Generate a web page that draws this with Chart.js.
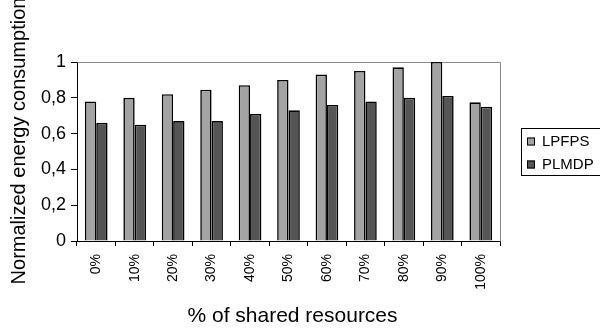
<!DOCTYPE html>
<html>
<head>
<meta charset="utf-8">
<script src="https://cdn.jsdelivr.net/npm/chart.js@4/dist/chart.umd.min.js"></script>
<style>
  html, body { margin: 0; padding: 0; background: #fff; }
  canvas { display: block; }
</style>
</head>
<body>
<canvas id="c" width="600" height="331"></canvas>
<script>
// Share of resources held in common, one group of bars each
const categories = ['0%', '10%', '20%', '30%', '40%', '50%', '60%', '70%', '80%', '90%', '100%'];
const seriesNames = ['LPFPS', 'PLMDP'];
const lpfps = [0.78, 0.80, 0.82, 0.845, 0.87, 0.90, 0.93, 0.95, 0.97, 1.00, 0.775];
const plmdp = [0.66, 0.65, 0.67, 0.67, 0.71, 0.73, 0.76, 0.78, 0.80, 0.81, 0.75];
const yTicks = [0, 0.2, 0.4, 0.6, 0.8, 1];
const yTitle = 'Normalized energy consumption';
const xTitle = '% of shared resources';

const FONT = '"Liberation Sans", Arial, Helvetica, sans-serif';
Chart.defaults.font.family = FONT;
Chart.defaults.color = '#000';

// Grey frame on the top and right of the plot area
const framePlugin = {
  id: 'frame',
  beforeDatasetsDraw(chart) {
    const { ctx, chartArea: a } = chart;
    ctx.save();
    ctx.strokeStyle = '#8a8a8a';
    ctx.lineWidth = 1;
    ctx.beginPath();
    ctx.moveTo(Math.round(a.left) + 0.5, Math.round(a.top) + 0.5);
    ctx.lineTo(Math.round(a.right) + 0.5, Math.round(a.top) + 0.5);
    ctx.lineTo(Math.round(a.right) + 0.5, Math.round(a.bottom) + 0.5);
    ctx.stroke();
    ctx.restore();
  }
};

// Axis titles and the boxed legend on the right
const annotatePlugin = {
  id: 'annotate',
  afterDraw(chart) {
    const { ctx } = chart;
    ctx.save();
    ctx.fillStyle = '#000';

    // y title, reading bottom to top
    ctx.font = '20px ' + FONT;
    ctx.translate(25, 141);
    ctx.rotate(-Math.PI / 2);
    ctx.textAlign = 'center';
    ctx.textBaseline = 'alphabetic';
    ctx.fillText(yTitle, 0, 0);
    ctx.setTransform(1, 0, 0, 1, 0, 0);

    // x title
    ctx.font = '21px ' + FONT;
    ctx.textAlign = 'center';
    ctx.fillText(xTitle, 292.5, 322);

    // legend box
    ctx.strokeStyle = '#000';
    ctx.lineWidth = 1;
    ctx.strokeRect(521.5, 128.5, 120, 47);
    ctx.font = '15px ' + FONT;
    ctx.textAlign = 'left';
    ctx.textBaseline = 'middle';
    const rows = [141.5, 164.5];
    chart.data.datasets.forEach((ds, i) => {
      const cy = rows[i];
      ctx.fillStyle = ds.backgroundColor;
      ctx.fillRect(527, cy - 4, 8, 8);
      ctx.strokeStyle = '#000';
      ctx.strokeRect(527.5, cy - 3.5, 7, 7);
      ctx.fillStyle = '#000';
      ctx.fillText(ds.label, 542, cy + 0.5);
    });
    ctx.restore();
  }
};

new Chart(document.getElementById('c'), {
  type: 'bar',
  data: {
    labels: categories,
    datasets: [
      { label: seriesNames[0], data: lpfps, backgroundColor: '#a3a3a3', borderColor: '#000', borderWidth: 1.6 },
      { label: seriesNames[1], data: plmdp, backgroundColor: '#555555', borderColor: '#000', borderWidth: 1.6 }
    ]
  },
  options: {
    responsive: false,
    animation: false,
    devicePixelRatio: 1,
    categoryPercentage: 0.59,
    barPercentage: 1.0,
    layout: { padding: { top: 62, right: 100, left: 0, bottom: 0 } },
    plugins: {
      legend: { display: false },
      tooltip: { enabled: false }
    },
    scales: {
      x: {
        offset: true,
        grid: { offset: true, drawOnChartArea: false, drawTicks: true, tickLength: 5, color: '#000' },
        border: { color: '#000', width: 1 },
        ticks: {
          autoSkip: false,
          minRotation: 90,
          maxRotation: 90,
          padding: 8,
          color: '#000',
          font: { size: 14 }
        },
        afterFit(scale) { scale.height = 90; }
      },
      y: {
        min: 0,
        max: 1,
        afterBuildTicks(scale) { scale.ticks = yTicks.map(v => ({ value: v })); },
        grid: { drawOnChartArea: false, drawTicks: true, tickLength: 6, color: '#000' },
        border: { color: '#000', width: 1 },
        ticks: {
          padding: 5,
          color: '#000',
          font: { size: 18 },
          callback: v => String(Math.round(v * 10) / 10).replace('.', ',')
        },
        afterFit(scale) { scale.width = 77; }
      }
    }
  },
  plugins: [framePlugin, annotatePlugin]
});
</script>
</body>
</html>
